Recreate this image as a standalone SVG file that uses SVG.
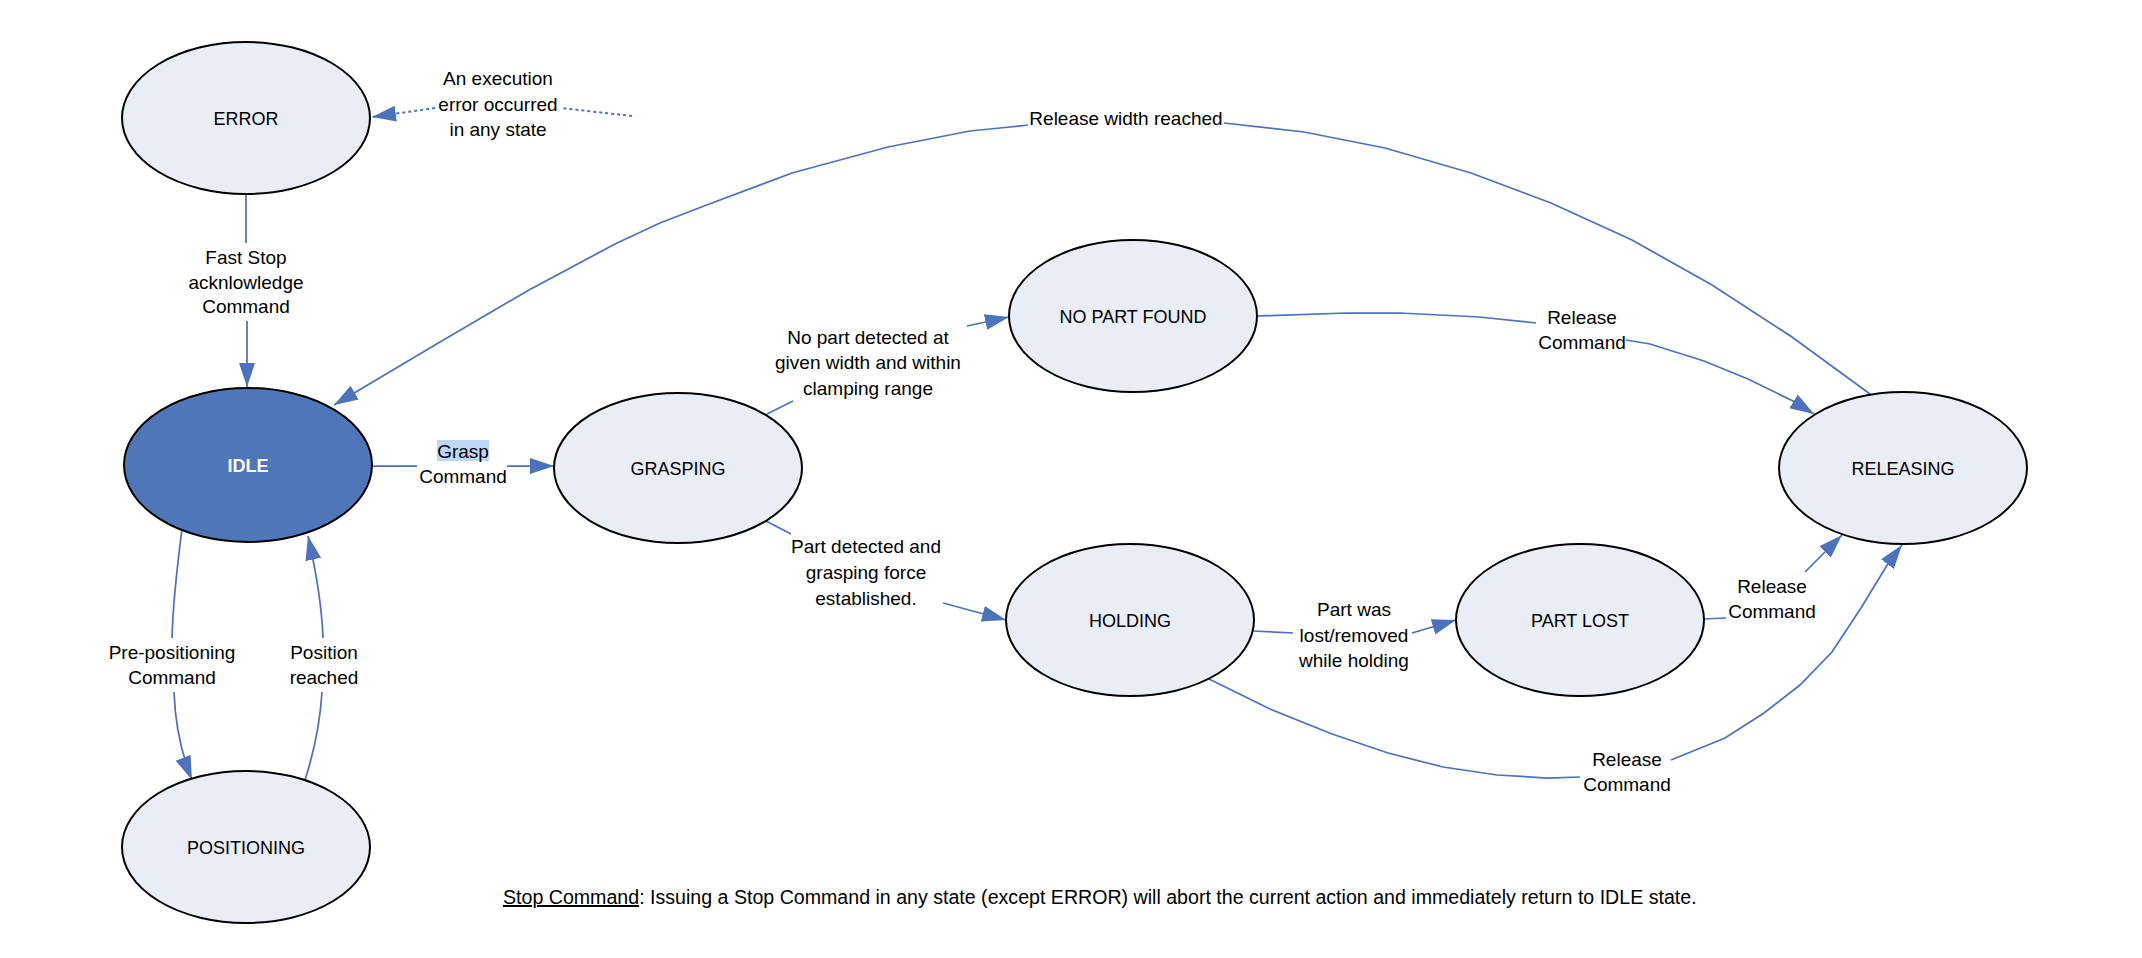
<svg xmlns="http://www.w3.org/2000/svg" width="2142" height="958" viewBox="0 0 2142 958">
<style>
.node{fill:#E8EDF6;stroke:#000;stroke-width:2}
.idle{fill:#5076BA;stroke:#000;stroke-width:2}
.nl{font-family:"Liberation Sans",Arial,sans-serif;font-size:18px;fill:#000;text-anchor:middle}
.il{font-family:"Liberation Sans",Arial,sans-serif;font-size:18px;fill:#fff;font-weight:bold;text-anchor:middle}
.el{font-family:"Liberation Sans",Arial,sans-serif;font-size:19px;fill:#000;text-anchor:middle}
.c{fill:none;stroke:#4C72BE;stroke-width:1.75}
.a{marker-end:url(#arr)}
.dot{stroke-dasharray:3 3;stroke-width:2}
</style>
<defs>
<marker id="arr" markerUnits="userSpaceOnUse" markerWidth="26" markerHeight="18" refX="24" refY="8" orient="auto"><path d="M0,0 L24,8 L0,16 z" fill="#4C72BE"/></marker>
</defs>
<rect width="2142" height="958" fill="#fff"/>
<g id="connectors">
<path class="c" d="M246,194 L246,243"/>
<path class="c a" d="M247,321 L247,387"/>
<path class="c dot" d="M632,116 L561,108"/>
<path class="c dot a" d="M435,108 L372,117"/>
<path class="c" d="M372,466 L417,466"/>
<path class="c a" d="M507,466 L554,466"/>
<path class="c" d="M767,414 L793,401"/>
<path class="c a" d="M967,326 L1009,317"/>
<path class="c" d="M766,521 L791,534"/>
<path class="c a" d="M943,603 L1006,620"/>
<path class="c" d="M1253,631 L1293,633"/>
<path class="c a" d="M1412,633 L1456,620"/>
<path class="c" d="M1703,619 L1726,618"/>
<path class="c a" d="M1805,572 L1842,535"/>
<path class="c" d="M1209,679 L1270,709 L1332,734 L1388,753 L1443,767 L1497,775 L1547,778 L1580,777"/>
<path class="c a" d="M1671,760 L1725,738 L1764,713 L1800,685 L1832,652 L1861,608 L1889,562 L1902,545"/>
<path class="c" d="M1257,316 L1347,313 L1400,313 L1479,317 L1536,323"/>
<path class="c a" d="M1626,340 L1650,344 L1704,361 L1748,379 L1793,401 L1814,414"/>
<path class="c" d="M1870,394 L1792,337 L1712,285 L1632,240 L1551,203 L1471,173 L1385,148 L1304,132 L1224,123"/>
<path class="c a" d="M1028,125 L1000,128 L970,131 L888,147 L792,173 L704,206 L660,223 L615,244 L529,290 L440,342 L334,405"/>
<path class="c" d="M182,529 C178,560 173,600 172,638"/>
<path class="c a" d="M174,692 C175,720 180,750 192,780"/>
<path class="c" d="M305,780 C313,755 320,725 322,692"/>
<path class="c a" d="M323,638 C322,610 318,580 308,536"/>
</g>
<g id="labels">
<text class="el" x="246" y="264">Fast Stop</text>
<text class="el" x="246" y="289">acknlowledge</text>
<text class="el" x="246" y="313">Command</text>
<text class="el" x="498" y="85">An execution</text>
<text class="el" x="498" y="110.5">error occurred</text>
<text class="el" x="498" y="136">in any state</text>
<rect x="437" y="440" width="52" height="21" fill="#BED6F6"/>
<text class="el" x="463" y="458">Grasp</text>
<text class="el" x="463" y="483">Command</text>
<text class="el" x="868" y="344">No part detected at</text>
<text class="el" x="868" y="369">given width and within</text>
<text class="el" x="868" y="395">clamping range</text>
<text class="el" x="866" y="553">Part detected and</text>
<text class="el" x="866" y="579">grasping force</text>
<text class="el" x="866" y="605">established.</text>
<text class="el" x="1354" y="616">Part was</text>
<text class="el" x="1354" y="642">lost/removed</text>
<text class="el" x="1354" y="667">while holding</text>
<text class="el" x="1582" y="324">Release</text>
<text class="el" x="1582" y="349">Command</text>
<text class="el" x="1772" y="593">Release</text>
<text class="el" x="1772" y="618">Command</text>
<text class="el" x="1627" y="766">Release</text>
<text class="el" x="1627" y="791">Command</text>
<text class="el" x="172" y="659">Pre-positioning</text>
<text class="el" x="172" y="684">Command</text>
<text class="el" x="324" y="659">Position</text>
<text class="el" x="324" y="684">reached</text>
<text class="el" x="1126" y="125">Release width reached</text>
<text class="el" x="503" y="904" style="text-anchor:start;font-size:19.6px"><tspan text-decoration="underline">Stop Command</tspan>: Issuing a Stop Command in any state (except ERROR) will abort the current action and immediately return to IDLE state.</text>
</g>
<g id="node-error"><ellipse class="node" cx="246" cy="118" rx="124" ry="76"/><text class="nl" x="246" y="124.5">ERROR</text></g>
<g id="node-idle"><ellipse class="idle" cx="248" cy="465" rx="124" ry="77"/><text class="il" x="248" y="471.5">IDLE</text></g>
<g id="node-positioning"><ellipse class="node" cx="246" cy="847" rx="124" ry="76"/><text class="nl" x="246" y="853.5">POSITIONING</text></g>
<g id="node-grasping"><ellipse class="node" cx="678" cy="468" rx="124" ry="75"/><text class="nl" x="678" y="474.5">GRASPING</text></g>
<g id="node-nopartfound"><ellipse class="node" cx="1133" cy="316" rx="124" ry="76"/><text class="nl" x="1133" y="322.5">NO PART FOUND</text></g>
<g id="node-holding"><ellipse class="node" cx="1130" cy="620" rx="124" ry="76"/><text class="nl" x="1130" y="626.5">HOLDING</text></g>
<g id="node-partlost"><ellipse class="node" cx="1580" cy="620" rx="124" ry="76"/><text class="nl" x="1580" y="626.5">PART LOST</text></g>
<g id="node-releasing"><ellipse class="node" cx="1903" cy="468" rx="124" ry="76"/><text class="nl" x="1903" y="474.5">RELEASING</text></g>
</svg>
